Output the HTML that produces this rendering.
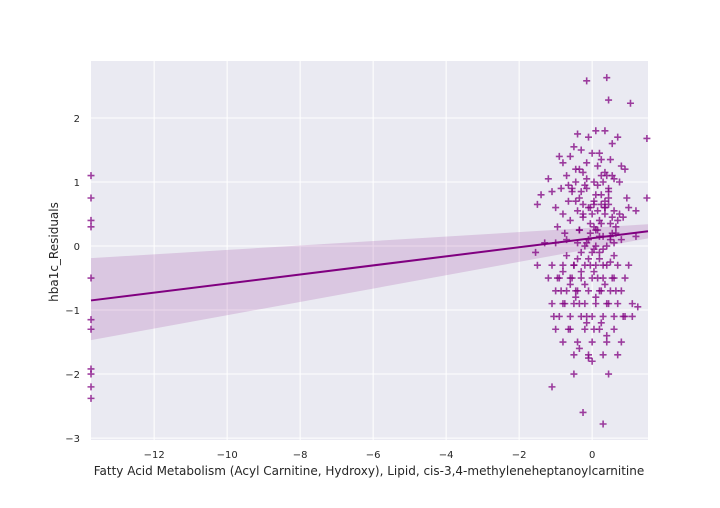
<!DOCTYPE html>
<html><head><meta charset="utf-8"><style>
body{margin:0;background:#fff;font-family:"DejaVu Sans","Liberation Sans",sans-serif}
svg text{font-family:"DejaVu Sans","Liberation Sans",sans-serif;fill:#262626}
</style></head><body>
<svg id="chart" width="720" height="504" xmlns="http://www.w3.org/2000/svg">
<rect x="91" y="61" width="557" height="379" fill="#eaeaf2"/>
<g id="grid"></g>
<g id="band"></g>
<g id="pts"></g>
<g id="line"></g>
<g id="ticks"></g>
<text x="369" y="475" text-anchor="middle" font-size="12">Fatty Acid Metabolism (Acyl Carnitine, Hydroxy), Lipid, cis-3,4-methyleneheptanoylcarnitine</text>
<text transform="translate(58,252) rotate(-90)" text-anchor="middle" font-size="12">hba1c_Residuals</text>
</svg>
<script>
const xTicks=[-12,-10,-8,-6,-4,-2,0];
const yTicks=[-3,-2,-1,0,1,2];
const xDomain=[-13.73,1.53];
const yDomain=[-3.03,2.89];
const fitX=[-13.73,1.53];
const fitY=[-0.85,0.23];
const bandUpper=[-0.19,0.34];
const bandLower=[-1.47,0.12];
const pointsX=[-13.73,-13.73,-13.73,-13.73,-13.73,-13.73,-13.73,-13.73,-13.73,-13.73,-13.73,1.5,1.5,
-0.15,0.4,0.45,1.05,-1.1,-0.25,0.3,0.45,-0.5,-0.1,-1.5,-1.55,-1.5,1.2,1.2,1.25,1.1,1.1,
-0.4,0.1,0.35,-0.1,-0.5,0.55,0.7,-0.6,-0.9,-0.8,-0.3,0.2,0.25,-0.15,0.5,-0.35,0.0,0.8,
-1.2,-1.1,-1.4,-0.7,-0.45,0.05,0.3,0.6,0.9,-0.2,0.15,0.4,-0.55,-0.85,0.75,1.0,-1.0,-0.3,
0.1,0.45,-0.65,0.25,-0.1,0.6,-0.8,0.35,0.0,-0.4,0.85,-0.25,0.2,0.5,-0.6,0.7,-0.95,0.05,
-1.3,-1.0,-0.7,-0.4,-0.1,0.2,0.5,0.8,-1.1,-0.8,-0.5,-0.2,0.1,0.4,0.7,1.0,
-1.2,-0.9,-0.6,-0.3,0.0,0.3,0.6,0.9,-1.0,-0.7,-0.4,-0.1,0.2,0.5,0.8,
-1.1,-0.8,-0.5,-0.2,0.1,0.4,0.7,-0.9,-0.6,-0.3,0.0,0.3,0.6,0.9,
-1.0,-0.6,-0.2,0.2,0.6,-0.8,-0.4,0.0,0.4,0.8,-0.5,-0.1,0.3,0.7,
-0.35,-0.05,0.15,0.55,-0.75,0.65,-0.25,0.05,0.35,-0.45,0.95,-0.15,0.25,
-0.55,0.45,-0.3,0.0,0.3,-0.7,0.6,-0.2,0.1,0.4,-0.4,0.2,0.5,-0.1,
-0.8,-0.3,0.05,-0.6,-0.2,0.35,-0.45,0.1,-0.15,0.25,-0.35,0.0,0.4,
-0.05,0.15,0.35,0.55,-0.25,0.45,-0.05,0.25,0.65,-0.35,0.1,0.3,0.5,-0.15,0.05,0.2,0.6,
-0.45,-0.25,0.15,0.35,0.55,-0.65,-0.15,0.25,0.45,-0.35,0.05,0.35,0.75,-0.5,-0.05,0.3,
-0.95,-0.55,0.15,0.55,-0.85,-0.45,0.25,0.65,-0.75,-0.35,0.45,-1.05,-0.15,0.85,-0.65,0.05];
const pointsY=[1.1,0.75,0.4,0.3,-0.5,-1.15,-1.3,-1.92,-2.0,-2.2,-2.38,1.68,0.75,
2.58,2.63,2.28,2.23,-2.2,-2.6,-2.78,-2.0,-2.0,-1.75,0.65,-0.1,-0.3,0.55,0.15,-0.95,-0.9,-1.1,
1.75,1.8,1.8,1.7,1.55,1.6,1.7,1.4,1.4,1.3,1.5,1.45,1.35,1.3,1.35,1.2,1.45,1.25,
1.05,0.85,0.8,1.1,1.0,1.0,1.0,1.05,1.2,0.95,0.95,1.1,0.9,0.9,1.0,0.6,0.6,0.85,
0.8,0.75,0.7,0.65,0.6,0.55,0.5,0.6,0.5,0.55,0.45,0.45,0.4,0.35,0.4,0.4,0.3,0.3,
0.05,0.05,0.1,0.05,0.1,0.15,0.15,0.1,-0.3,-0.3,-0.3,-0.3,-0.3,-0.3,-0.3,-0.3,
-0.5,-0.5,-0.5,-0.5,-0.5,-0.5,-0.5,-0.5,-0.7,-0.7,-0.7,-0.7,-0.7,-0.7,-0.7,
-0.9,-0.9,-0.9,-0.9,-0.9,-0.9,-0.9,-1.1,-1.1,-1.1,-1.1,-1.1,-1.1,-1.1,
-1.3,-1.3,-1.3,-1.3,-1.3,-1.5,-1.5,-1.5,-1.5,-1.5,-1.7,-1.7,-1.7,-1.7,
0.25,0.2,0.25,0.2,0.2,0.2,0.65,0.65,0.7,0.7,0.75,1.05,1.1,
0.85,0.85,-0.1,-0.1,-0.05,-0.15,-0.15,0.0,0.0,0.0,-0.2,-0.2,-0.25,-0.2,
-0.4,-0.4,-0.4,-0.6,-0.6,-0.6,-0.8,-0.8,-1.2,-1.2,-1.6,-1.8,-1.4,
0.6,0.55,0.5,0.45,0.5,0.65,0.35,0.35,0.3,0.25,0.25,0.15,0.1,0.05,-0.05,-0.1,0.05,
1.2,1.15,1.25,1.15,1.1,0.95,0.9,0.8,0.9,0.75,0.7,0.6,0.5,-0.3,-0.3,-0.3,
-0.5,-0.5,-0.5,-0.5,-0.7,-0.7,-0.7,-0.7,-0.9,-0.9,-0.9,-1.1,-1.1,-1.1,-1.3,-1.3];
const sx=v=>91+(v-xDomain[0])/(xDomain[1]-xDomain[0])*557;
const sy=v=>440-(v-yDomain[0])/(yDomain[1]-yDomain[0])*379;
const NS="http://www.w3.org/2000/svg";
function mk(t,a,p){const e=document.createElementNS(NS,t);for(const k in a)e.setAttribute(k,a[k]);p.appendChild(e);return e;}
const grid=document.getElementById('grid'),ticks=document.getElementById('ticks');
xTicks.forEach(v=>{const l=mk('line',{x1:sx(v),x2:sx(v),y1:61,y2:440,stroke:'#fff','stroke-width':1},grid);


const t=mk('text',{x:sx(v),y:458,'text-anchor':'middle','font-size':10},ticks);t.textContent=v<0?'\u2212'+(-v):v;

});
yTicks.forEach(v=>{const l=mk('line',{x1:91,x2:648,y1:sy(v),y2:sy(v),stroke:'#fff','stroke-width':1},grid);


const t=mk('text',{x:80,y:sy(v)+4,'text-anchor':'end','font-size':10},ticks);t.textContent=v<0?'\u2212'+(-v):v;

});
const bp=mk('polygon',{points:`${sx(fitX[0])},${sy(bandUpper[0])} ${sx(fitX[1])},${sy(bandUpper[1])} ${sx(fitX[1])},${sy(bandLower[1])} ${sx(fitX[0])},${sy(bandLower[0])}`,fill:'#800080','fill-opacity':0.15},document.getElementById('band'));


const pts=document.getElementById('pts');
pointsX.forEach((x,i)=>{const X=sx(x),Y=sy(pointsY[i]);
const p=mk('path',{d:`M${X-3.5},${Y}H${X+3.5}M${X},${Y-3.5}V${Y+3.5}`,stroke:'#800080','stroke-opacity':0.75,'stroke-width':1.6},pts);

});
const ln=mk('line',{x1:sx(fitX[0]),y1:sy(fitY[0]),x2:sx(fitX[1]),y2:sy(fitY[1]),stroke:'#800080','stroke-width':2},document.getElementById('line'));


</script>
</body></html>
